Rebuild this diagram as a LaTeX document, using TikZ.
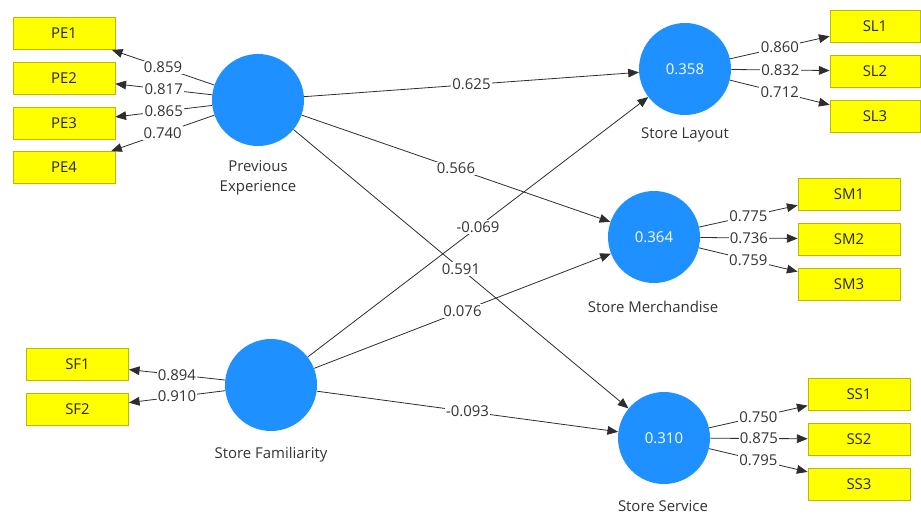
\documentclass[tikz,border=0pt]{standalone}
\usepackage{fontspec}
\setmainfont{Open Sans}
\usetikzlibrary{arrows.meta}
\definecolor{lvblue}{RGB}{30,144,255}
\definecolor{indyellow}{RGB}{255,255,0}
\definecolor{indborder}{RGB}{185,185,0}
\definecolor{linegray}{RGB}{45,45,45}
\begin{document}
\begin{tikzpicture}[x=0.75pt,y=-0.75pt,
  font=\fontsize{11.2}{14}\selectfont,
  latent/.style={circle,fill=lvblue,minimum size=69pt,inner sep=0pt,text=white},
  ind/.style={rectangle,draw=indborder,fill=indyellow,minimum width=76.5pt,minimum height=24pt,inner sep=0pt,line width=0.6pt,text=black!85},
  pathline/.style={draw=linegray,line width=0.6pt,-{Triangle[length=8pt,width=6.5pt]}},
  coef/.style={fill=white,inner sep=1pt,text=black!80,midway},
  caption/.style={text=black!80,align=center}
]
\useasboundingbox (0,0) rectangle (921,515);

% latent variables
\node[latent] (pe) at (258,100) {};
\node[latent] (sf) at (271,385) {};
\node[latent] (sl) at (685,69) {0.358};
\node[latent] (sm) at (654,237) {0.364};
\node[latent] (ss) at (664,438) {0.310};

% captions
\node[caption] (cpe) at (258,178) {Previous\\[1pt]Experience};
\node[caption] (csf) at (271,455) {Store Familiarity};
\node[caption] (csl) at (685,135) {Store Layout};
\node[caption] (csm) at (653,307) {Store Merchandise};
\node[caption] (css) at (663,506) {Store Service};

% indicators
\node[ind] (pe1) at (64,33.5) {PE1};
\node[ind] (pe2) at (64,78) {PE2};
\node[ind] (pe3) at (64,123) {PE3};
\node[ind] (pe4) at (64,167.5) {PE4};
\node[ind] (sf1) at (77.5,364) {SF1};
\node[ind] (sf2) at (77.5,409) {SF2};
\node[ind,minimum width=67.5pt] (sl1) at (875,26) {SL1};
\node[ind,minimum width=67.5pt] (sl2) at (875,71) {SL2};
\node[ind,minimum width=67.5pt] (sl3) at (875,116) {SL3};
\node[ind] (sm1) at (849,194) {SM1};
\node[ind] (sm2) at (849,239) {SM2};
\node[ind] (sm3) at (849,284) {SM3};
\node[ind] (ss1) at (859,394) {SS1};
\node[ind] (ss2) at (859,439) {SS2};
\node[ind] (ss3) at (859,484) {SS3};

% outer loadings
\draw[pathline] (pe) -- node[coef]{0.859} (pe1);
\draw[pathline] (pe) -- node[coef]{0.817} (pe2);
\draw[pathline] (pe) -- node[coef]{0.865} (pe3);
\draw[pathline] (pe) -- node[coef]{0.740} (pe4);
\draw[pathline] (sf) -- node[coef]{0.894} (sf1);
\draw[pathline] (sf) -- node[coef]{0.910} (sf2);
\draw[pathline] (sl) -- node[coef]{0.860} (sl1);
\draw[pathline] (sl) -- node[coef]{0.832} (sl2);
\draw[pathline] (sl) -- node[coef]{0.712} (sl3);
\draw[pathline] (sm) -- node[coef]{0.775} (sm1);
\draw[pathline] (sm) -- node[coef]{0.736} (sm2);
\draw[pathline] (sm) -- node[coef]{0.759} (sm3);
\draw[pathline] (ss) -- node[coef]{0.750} (ss1);
\draw[pathline] (ss) -- node[coef]{0.875} (ss2);
\draw[pathline] (ss) -- node[coef]{0.795} (ss3);

% structural paths
\draw[pathline] (pe) -- node[coef]{0.625} (sl);
\draw[pathline] (pe) -- node[coef]{0.566} (sm);
\draw[pathline] (pe) -- node[coef]{0.591} (ss);
\draw[pathline] (sf) -- node[coef]{-0.069} (sl);
\draw[pathline] (sf) -- node[coef]{0.076} (sm);
\draw[pathline] (sf) -- node[coef]{-0.093} (ss);
\end{tikzpicture}
\end{document}
